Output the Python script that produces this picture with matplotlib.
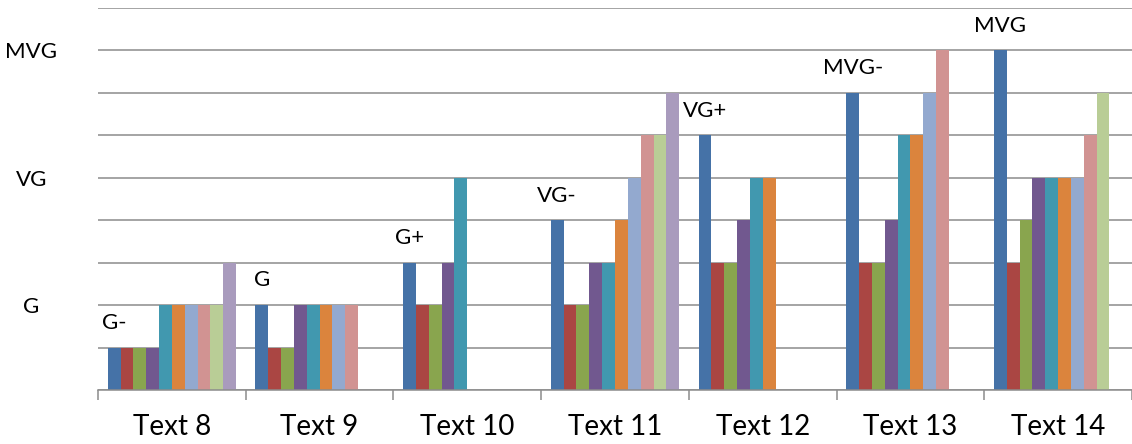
import numpy as np
import matplotlib
matplotlib.use("Agg")
import matplotlib.pyplot as plt

plt.rcParams['font.family'] = ['Lato', 'DejaVu Sans']

# categories and grade levels
groups = ["Text 8", "Text 9", "Text 10", "Text 11", "Text 12", "Text 13", "Text 14"]
level_names = {2: "G", 5: "VG", 8: "MVG"}
first_labels = ["G-", "G", "G+", "VG-", "VG+", "MVG-", "MVG"]

# one list per series (None = no bar)
s1 = [1, 2, 3, 4, 6, 7, 8]
s2 = [1, 1, 2, 2, 3, 3, 3]
s3 = [1, 1, 2, 2, 3, 3, 4]
s4 = [1, 2, 3, 3, 4, 4, 5]
s5 = [2, 2, 5, 3, 5, 6, 5]
s6 = [2, 2, None, 4, 5, 6, 5]
s7 = [2, 2, None, 5, None, 7, 5]
s8 = [2, 2, None, 6, None, 8, 6]
s9 = [2, None, None, 6, None, None, 7]
s10 = [3, None, None, 7, None, None, None]
series = [s1, s2, s3, s4, s5, s6, s7, s8, s9, s10]

colors = ["#4572A7", "#AA4643", "#89A54E", "#71588F", "#4198AF",
          "#DB843D", "#93A9CF", "#D19392", "#B9CD96", "#A99BBD"]

fig = plt.figure(figsize=(11.32, 4.44), dpi=100)
ax = fig.add_axes([98/1132, 54/444, 1 - 98/1132, 382/444])

n = len(series)
w = 0.0869
x = np.arange(len(groups))
for i, (vals, c) in enumerate(zip(series, colors)):
    off = (i - (n - 1) / 2) * w
    xs = [xx + off for xx, v in zip(x, vals) if v is not None]
    hs = [v for v in vals if v is not None]
    ax.bar(xs, hs, width=w, color=c, zorder=3)

# data labels on the first series
off0 = -(n - 1) / 2 * w
for xx, v, t in zip(x, s1, first_labels):
    ax.text(xx + off0, v + 0.58, t, ha="center", va="center", fontsize=16)

ax.set_ylim(0, 9)
ax.set_xlim(-0.5, 6.463)
ax.set_yticks(range(10))
ax.set_yticklabels([level_names.get(k, "") for k in range(10)], fontsize=16)
for lab in ax.get_yticklabels():
    lab.set_horizontalalignment("center")
ax.tick_params(axis="y", length=0, pad=48)
ax.grid(axis="y", color="#8c8c8c", linewidth=1.1, zorder=0)

ax.set_xticks(x)
ax.set_xticklabels(groups, fontsize=20)
ax.set_xticks(np.arange(-0.5, 7, 1), minor=True)
ax.tick_params(axis="x", which="major", length=0, pad=17)
ax.tick_params(axis="x", which="minor", length=7.5, color="#8c8c8c", width=1.1)

for sp in ["left", "right", "top"]:
    ax.spines[sp].set_visible(False)
ax.spines["bottom"].set_color("#8c8c8c")
ax.spines["bottom"].set_linewidth(1.1)
ax.spines["bottom"].set_zorder(4)

fig.savefig("out.png", dpi=100)
